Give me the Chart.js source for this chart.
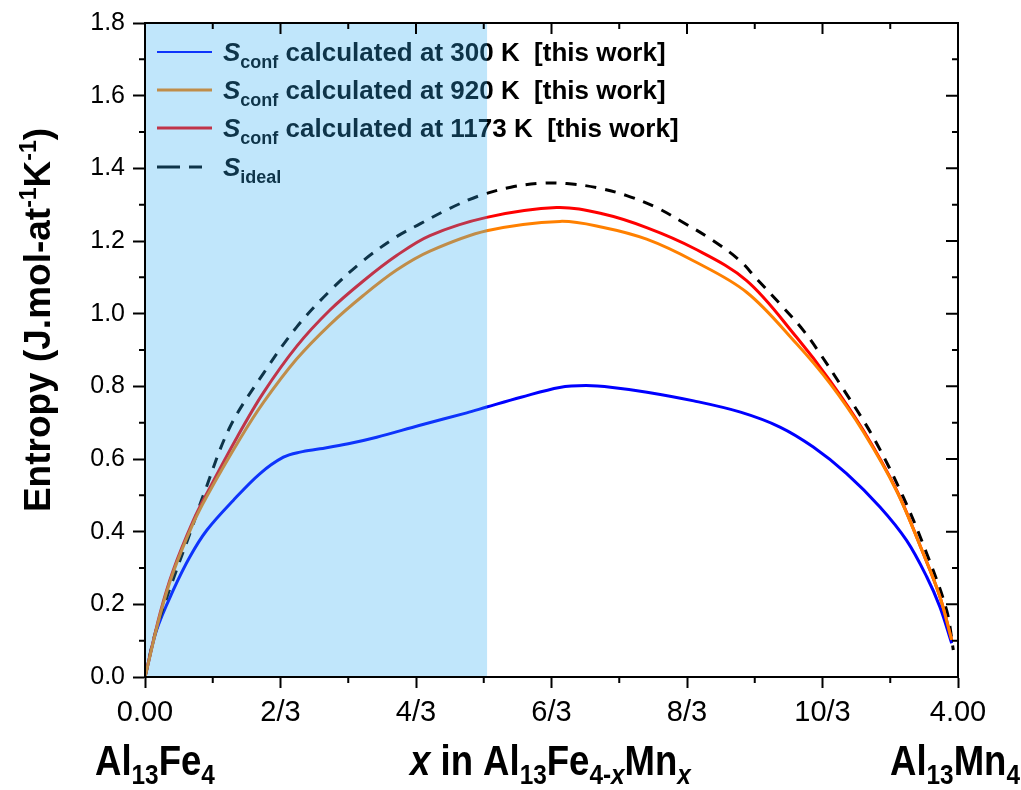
<!DOCTYPE html>
<html>
<head>
<meta charset="utf-8">
<script src="https://cdn.jsdelivr.net/npm/chart.js@4.4.1/dist/chart.umd.min.js"></script>
<style>
body { margin: 0; background: #fff; }
#wrap { width: 1021px; height: 790px; }
</style>
</head>
<body>
<div id="wrap"><canvas id="myChart" width="1021" height="790"></canvas></div>
<script>
// axis ticks
var xTickValues = [0, 2/3, 4/3, 2, 8/3, 10/3, 4];
var xTickLabels = ['0.00', '2/3', '4/3', '6/3', '8/3', '10/3', '4.00'];
var xMinorTicks = [1/3, 1, 5/3, 7/3, 3, 11/3];
var yMajorTicks = [0, 0.2, 0.4, 0.6, 0.8, 1.0, 1.2, 1.4, 1.6, 1.8];
var yMinorTicks = [0.1, 0.3, 0.5, 0.7, 0.9, 1.1, 1.3, 1.5, 1.7];
var shadeEnd = 1.683;

// S_conf at 300 K
var x300 = [0, 0.057, 0.139, 0.221, 0.304, 0.434, 0.566, 0.681, 0.763, 0.861, 1.0, 1.14, 1.353, 1.583, 1.681,
            1.85, 2.04, 2.17, 2.30, 2.47, 2.70, 2.93, 3.124, 3.288, 3.452, 3.616, 3.747, 3.846, 3.911, 3.969];
var s300 = [0, 0.129, 0.239, 0.331, 0.404, 0.486, 0.56, 0.605, 0.619, 0.628, 0.642, 0.66, 0.693, 0.727, 0.743,
            0.77, 0.797, 0.802, 0.797, 0.784, 0.760, 0.729, 0.688, 0.633, 0.560, 0.468, 0.376, 0.276, 0.193, 0.093];

// S_conf at 920 K
var x920 = [0, 0.074, 0.139, 0.238, 0.304, 0.467, 0.582, 0.746, 0.910, 1.074, 1.238, 1.402, 1.681,
            2.042, 2.25, 2.468, 2.7, 2.96, 3.206, 3.37, 3.534, 3.698, 3.829, 3.911, 3.969];
var s920 = [0, 0.17, 0.288, 0.424, 0.497, 0.655, 0.755, 0.875, 0.97, 1.05, 1.12, 1.172, 1.228,
            1.254, 1.238, 1.205, 1.145, 1.059, 0.917, 0.808, 0.675, 0.512, 0.340, 0.221, 0.102];

// S_conf at 1173 K
var x1173 = [0, 0.074, 0.139, 0.238, 0.304, 0.451, 0.582, 0.746, 0.910, 1.074, 1.238, 1.402, 1.681,
             2.025, 2.25, 2.468, 2.7, 2.96, 3.206, 3.37, 3.534, 3.698, 3.829, 3.911, 3.969];
var s1173 = [0, 0.175, 0.294, 0.431, 0.505, 0.658, 0.782, 0.91, 1.01, 1.09, 1.16, 1.215, 1.265,
             1.292, 1.275, 1.237, 1.18, 1.091, 0.935, 0.816, 0.679, 0.514, 0.340, 0.221, 0.102];

// S_ideal
var xIdeal = [0, 0.05, 0.131, 0.221, 0.287, 0.418, 0.582, 0.746, 0.910, 1.074, 1.238, 1.353, 1.5, 1.648,
              1.80, 1.943, 2.075, 2.222, 2.37, 2.517, 2.648, 2.796, 2.927, 3.009, 3.124, 3.239, 3.321, 3.419,
              3.583, 3.731, 3.846, 3.944, 3.977];
var sIdeal = [0, 0.12, 0.257, 0.395, 0.50, 0.688, 0.835, 0.963, 1.063, 1.146, 1.212, 1.247, 1.29, 1.325,
              1.348, 1.359, 1.358, 1.347, 1.325, 1.292, 1.251, 1.201, 1.146, 1.096, 1.027, 0.954, 0.89, 0.807,
              0.660, 0.495, 0.34, 0.184, 0.074];

var legendTemps = ['300', '920', '1173'];

function toPoints(xs, ys) {
    return xs.map(function (x, i) { return { x: x, y: ys[i] }; });
}

var SANS = '"Liberation Sans", Arial, sans-serif';

function measureRich(ctx, parts) {
    var w = 0;
    parts.forEach(function (p) { ctx.font = p[1]; w += ctx.measureText(p[0]).width; });
    return w;
}
function drawRich(ctx, parts, x, y) {
    parts.forEach(function (p) {
        ctx.font = p[1];
        ctx.fillText(p[0], x, y + (p[2] || 0));
        x += ctx.measureText(p[0]).width;
    });
    return x;
}

var legendPlugin = {
    id: 'customLegend',
    afterDatasetsDraw: function (chart) {
        var ctx = chart.ctx;
        var rows = [
            { color: '#0000ff', width: 2 },
            { color: '#ff8000', width: 3 },
            { color: '#ff0000', width: 3 }
        ];
        ctx.save();
        ctx.fillStyle = '#000';
        ctx.textBaseline = 'alphabetic';
        var ys = [52, 90, 128, 167];
        rows.forEach(function (r, i) {
            ctx.strokeStyle = r.color;
            ctx.lineWidth = r.width;
            ctx.beginPath();
            ctx.moveTo(157, ys[i]);
            ctx.lineTo(212, ys[i]);
            ctx.stroke();
            drawRich(ctx, [
                ['S', 'italic bold 26px ' + SANS],
                ['conf', 'bold 18px ' + SANS, 7],
                [' calculated at ' + legendTemps[i] + ' K  [this work]', 'bold 26px ' + SANS]
            ], 223, ys[i] + 9);
        });
        ctx.strokeStyle = '#000';
        ctx.lineWidth = 3;
        ctx.setLineDash([23, 9]);
        ctx.beginPath();
        ctx.moveTo(157, ys[3]);
        ctx.lineTo(202, ys[3]);
        ctx.stroke();
        ctx.setLineDash([]);
        drawRich(ctx, [
            ['S', 'italic bold 26px ' + SANS],
            ['ideal', 'bold 18px ' + SANS, 7]
        ], 223, ys[3] + 9);
        ctx.restore();
    },
    afterDraw: function (chart) {
        var ctx = chart.ctx;
        var a = chart.chartArea;
        var xs = chart.scales.x;
        var ysc = chart.scales.y;
        ctx.save();
        // shaded region drawn over the curves
        ctx.fillStyle = 'rgba(45, 172, 242, 0.3)';
        var xe = xs.getPixelForValue(shadeEnd);
        ctx.fillRect(a.left, a.top, xe - a.left, a.bottom - a.top);

        // frame
        ctx.strokeStyle = '#000';
        ctx.lineWidth = 2;
        ctx.strokeRect(a.left, a.top, a.right - a.left, a.bottom - a.top);

        // mirror and minor ticks
        ctx.beginPath();
        xTickValues.forEach(function (v) {
            var p = xs.getPixelForValue(v);
            ctx.moveTo(p, a.top); ctx.lineTo(p, a.top + 11);
        });
        xMinorTicks.forEach(function (v) {
            var p = xs.getPixelForValue(v);
            ctx.moveTo(p, a.top); ctx.lineTo(p, a.top + 6);
            ctx.moveTo(p, a.bottom); ctx.lineTo(p, a.bottom + 6);
        });
        yMajorTicks.forEach(function (v) {
            var p = ysc.getPixelForValue(v);
            ctx.moveTo(a.right, p); ctx.lineTo(a.right - 12, p);
        });
        yMinorTicks.forEach(function (v) {
            var p = ysc.getPixelForValue(v);
            ctx.moveTo(a.right, p); ctx.lineTo(a.right - 6, p);
            ctx.moveTo(a.left, p); ctx.lineTo(a.left - 6, p);
        });
        ctx.stroke();

        // y axis title
        ctx.fillStyle = '#000';
        ctx.translate(50, 320);
        ctx.rotate(-Math.PI / 2);
        var title = [
            ['Entropy (J.mol-at', 'bold 37px ' + SANS],
            ['-1', 'bold 23px ' + SANS, -14],
            ['K', 'bold 37px ' + SANS],
            ['-1', 'bold 23px ' + SANS, -14],
            [')', 'bold 37px ' + SANS]
        ];
        drawRich(ctx, title, -measureRich(ctx, title) / 2, 0);
        ctx.restore();

        // bottom composition labels (condensed)
        var big = 'bold 42px ' + SANS;
        var sub = 'bold 28px ' + SANS;
        var ib = 'italic bold 42px ' + SANS;
        var isub = 'italic bold 28px ' + SANS;
        var labels = [
            { x: 95, parts: [['Al', big], ['13', sub, 9], ['Fe', big], ['4', sub, 9]] },
            { x: 410, parts: [['x', ib], [' in Al', big], ['13', sub, 9], ['Fe', big], ['4-', sub, 9], ['x', isub, 9],
                              ['Mn', big], ['x', isub, 9]] },
            { x: 890, parts: [['Al', big], ['13', sub, 9], ['Mn', big], ['4', sub, 9]] }
        ];
        ctx.save();
        ctx.fillStyle = '#000';
        labels.forEach(function (l) {
            ctx.save();
            ctx.translate(l.x, 775);
            ctx.scale(0.87, 1);
            drawRich(ctx, l.parts, 0, 0);
            ctx.restore();
        });
        ctx.restore();
    }
};

var ctx = document.getElementById('myChart').getContext('2d');

var myChart = new Chart(ctx, {
    type: 'line',
    data: {
        datasets: [{
            label: 'S_conf 920 K',
            data: toPoints(x920, s920),
            borderColor: '#ff8000',
            borderWidth: 3,
            order: 0
        },
        {
            label: 'S_conf 1173 K',
            data: toPoints(x1173, s1173),
            borderColor: '#ff0000',
            borderWidth: 3,
            order: 1
        },
        {
            label: 'S_ideal',
            data: toPoints(xIdeal, sIdeal),
            borderColor: '#000000',
            borderWidth: 3,
            borderDash: [11, 9],
            order: 2
        },
        {
            label: 'S_conf 300 K',
            data: toPoints(x300, s300),
            borderColor: '#0000ff',
            borderWidth: 3,
            order: 3
        }]
    },
    options: {
        responsive: false,
        animation: false,
        elements: {
            point: { radius: 0 },
            line: { tension: 0.35, fill: false }
        },
        layout: { padding: { top: 21, right: 63, left: 0, bottom: 0 } },
        plugins: {
            legend: { display: false },
            tooltip: { enabled: false }
        },
        scales: {
            x: {
                type: 'linear',
                min: 0,
                max: 4,
                afterBuildTicks: function (scale) {
                    scale.ticks = xTickValues.map(function (v) { return { value: v }; });
                },
                afterFit: function (scale) { scale.height = 113; },
                ticks: {
                    autoSkip: false,
                    maxRotation: 0,
                    padding: 8,
                    color: '#000',
                    font: { family: SANS, size: 29 },
                    callback: function (value, index) { return xTickLabels[index]; }
                },
                grid: { drawOnChartArea: false, tickLength: 11, tickColor: '#000', tickWidth: 2 },
                border: { color: '#000', width: 2 }
            },
            y: {
                min: 0,
                max: 1.8,
                afterBuildTicks: function (scale) {
                    scale.ticks = yMajorTicks.map(function (v) { return { value: v }; });
                },
                afterFit: function (scale) { scale.width = 145; },
                ticks: {
                    padding: 8,
                    color: '#000',
                    font: { family: SANS, size: 25 },
                    callback: function (value) { return value.toFixed(1); }
                },
                grid: { drawOnChartArea: false, tickLength: 12, tickColor: '#000', tickWidth: 2 },
                border: { color: '#000', width: 2 }
            }
        }
    },
    plugins: [legendPlugin]
});
</script>
</body>
</html>
